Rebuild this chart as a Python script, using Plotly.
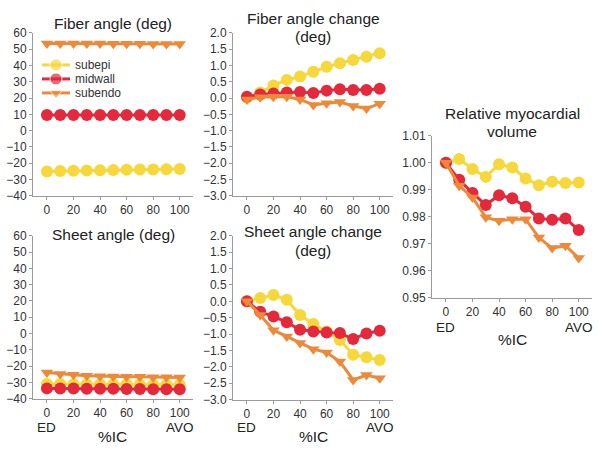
import plotly.graph_objects as go

# %IC 时间点
pct_ic = [0, 10, 20, 30, 40, 50, 60, 70, 80, 90, 100]

# Fiber angle (deg)
fiber_subepi = [-25.0, -24.8, -24.6, -24.5, -24.3, -24.2, -24.0, -23.9, -23.8, -23.7, -23.6]
fiber_midwall = [9.6, 9.6, 9.6, 9.6, 9.6, 9.6, 9.6, 9.6, 9.6, 9.6, 9.6]
fiber_subendo = [53.6, 53.6, 53.5, 53.5, 53.5, 53.4, 53.4, 53.4, 53.3, 53.3, 53.3]

# Fiber angle change (deg)
fchg_subepi = [0.02, 0.17, 0.39, 0.56, 0.66, 0.81, 0.96, 1.07, 1.17, 1.27, 1.38]
fchg_midwall = [0.04, 0.11, 0.14, 0.17, 0.19, 0.16, 0.23, 0.27, 0.25, 0.25, 0.29]
fchg_subendo = [-0.04, 0.03, 0.04, 0.04, -0.04, -0.21, -0.16, -0.12, -0.24, -0.32, -0.17]

# Sheet angle (deg)
sheet_subepi = [-31.0, -31.0, -31.1, -31.1, -31.2, -31.2, -31.3, -31.3, -31.4, -31.4, -31.5]
sheet_midwall = [-33.7, -33.8, -33.8, -33.9, -34.0, -34.0, -34.1, -34.1, -34.2, -34.2, -34.3]
sheet_subendo = [-23.9, -24.8, -25.4, -25.9, -26.2, -26.4, -26.5, -26.6, -26.8, -26.9, -27.0]

# Sheet angle change (deg)
schg_subepi = [0.0, 0.1, 0.19, 0.05, -0.42, -0.69, -0.92, -1.18, -1.63, -1.71, -1.79]
schg_midwall = [0.0, -0.32, -0.46, -0.64, -0.87, -0.92, -0.95, -0.97, -1.15, -0.98, -0.9]
schg_subendo = [0.0, -0.42, -0.88, -1.07, -1.27, -1.46, -1.56, -1.84, -2.4, -2.25, -2.35]

# Relative myocardial volume
vol_subepi = [1.0, 1.0014, 0.9977, 0.9948, 0.9995, 0.9983, 0.9942, 0.9917, 0.993, 0.9925, 0.9927]
vol_midwall = [1.0, 0.9937, 0.9888, 0.9844, 0.988, 0.9869, 0.9837, 0.9794, 0.9789, 0.9794, 0.9751]
vol_subendo = [1.0, 0.9915, 0.9872, 0.9798, 0.9785, 0.9791, 0.9791, 0.9723, 0.9684, 0.9693, 0.9647]

layer_names = ["subepi", "midwall", "subendo"]
colors = ["#F6D83A", "#E3293B", "#EC8A3A"]
symbols = ["circle", "circle", "triangle-down"]
sizes = [12, 12, 11]

panels = [
    ("x", "y", [fiber_subepi, fiber_midwall, fiber_subendo]),
    ("x2", "y2", [fchg_subepi, fchg_midwall, fchg_subendo]),
    ("x3", "y3", [sheet_subepi, sheet_midwall, sheet_subendo]),
    ("x4", "y4", [schg_subepi, schg_midwall, schg_subendo]),
    ("x5", "y5", [vol_subepi, vol_midwall, vol_subendo]),
]

W, H = 604, 453


def ypx(y):
    # 截图里纵向有点偏移/压缩，这里按参考图像素位置反算
    return (y - 6) / 0.97


fig = go.Figure()
for xa, ya, series in panels:
    for i, vals in enumerate(series):
        fig.add_trace(go.Scatter(
            x=pct_ic, y=vals, xaxis=xa, yaxis=ya,
            mode="lines+markers", name=layer_names[i],
            line=dict(color=colors[i], width=3),
            marker=dict(color=colors[i], symbol=symbols[i], size=sizes[i]),
            showlegend=False,
        ))

# 图例：plotly 自带图例行距太大，自己画（隐藏坐标轴用像素单位）
legend_rows = [64, 78, 92]
for i, name in enumerate(layer_names):
    fig.add_trace(go.Scatter(
        x=[42, 56, 70], y=[ypx(legend_rows[i])] * 3, xaxis="x6", yaxis="y6",
        mode="lines+markers", showlegend=False, hoverinfo="skip",
        line=dict(color=colors[i], width=3),
        marker=dict(color=colors[i], symbol=symbols[i], size=[0, sizes[i], 0]),
    ))
    fig.add_annotation(text=name, x=73, y=ypx(legend_rows[i]), xref="x6", yref="y6",
                       xanchor="left", yanchor="middle", showarrow=False,
                       font=dict(size=12, color="#333333"))


def xdom(left, right):
    return [left / W, right / W]


def ydom(top, bottom):
    return [1 - ypx(bottom) / H, 1 - ypx(top) / H]


axis_style = dict(showgrid=False, zeroline=False, showline=True,
                  linecolor="#9a9a9a", linewidth=1, ticks="outside",
                  ticklen=3, tickcolor="#9a9a9a",
                  tickfont=dict(size=12, color="#333333"))

ticks_x = dict(tickvals=[0, 20, 40, 60, 80, 100])
xr = [-10.5, 110]
layout = dict(
    width=W, height=H,
    margin=dict(l=0, r=0, t=0, b=0),
    paper_bgcolor="white", plot_bgcolor="rgba(0,0,0,0)",
    showlegend=False,
    font=dict(family="Liberation Sans, Arial, sans-serif", color="#222222"),
    xaxis=dict(domain=xdom(33, 193), range=xr, anchor="y", **ticks_x, **axis_style),
    yaxis=dict(domain=ydom(32, 195), range=[-40, 60], dtick=10, anchor="x", **axis_style),
    xaxis2=dict(domain=xdom(233, 393), range=xr, anchor="y2", **ticks_x, **axis_style),
    yaxis2=dict(domain=ydom(32, 195), range=[-3, 2], dtick=0.5, tickformat=".1f",
                anchor="x2", **axis_style),
    xaxis3=dict(domain=xdom(33, 193), range=xr, anchor="y3", **ticks_x, **axis_style),
    yaxis3=dict(domain=ydom(235, 398), range=[-40, 60], dtick=10, anchor="x3", **axis_style),
    xaxis4=dict(domain=xdom(233, 393), range=xr, anchor="y4", **ticks_x, **axis_style),
    yaxis4=dict(domain=ydom(235, 399), range=[-3, 2], dtick=0.5, tickformat=".1f",
                anchor="x4", **axis_style),
    xaxis5=dict(domain=xdom(432, 592), range=xr, anchor="y5", **ticks_x, **axis_style),
    yaxis5=dict(domain=ydom(135, 297), range=[0.95, 1.01], dtick=0.01, tickformat=".2f",
                anchor="x5", **axis_style),
    xaxis6=dict(domain=[0, 1], range=[0, W], visible=False, anchor="y6", fixedrange=True),
    yaxis6=dict(domain=[0, 1], range=[H, 0], visible=False, anchor="x6", fixedrange=True),
)
fig.update_layout(**layout)

# 子图标题（每行一个注释，行距更紧）
titles = [
    ("Fiber angle (deg)", 113, 23),
    ("Fiber angle change", 313, 18),
    ("(deg)", 313, 36),
    ("Sheet angle (deg)", 113, 234),
    ("Sheet angle change", 313, 231),
    ("(deg)", 313, 250),
    ("Relative myocardial", 512, 113),
    ("volume", 512, 131),
    ("%IC", 112, 436),
    ("%IC", 313, 436),
    ("%IC", 512, 339),
]
for text, px_x, px_y in titles:
    fig.add_annotation(text=text, x=px_x / W, y=1 - ypx(px_y) / H, xref="paper", yref="paper",
                       xanchor="center", yanchor="middle", showarrow=False,
                       font=dict(size=15.5, color="#222222"))

# ED / AVO 标在 0 和 100 下面
ed_avo = [("x3", 427), ("x4", 427), ("x5", 327)]
for xa, px_y in ed_avo:
    for val, label in [(0, "ED"), (100, "AVO")]:
        fig.add_annotation(text=label, x=val, xref=xa, y=1 - ypx(px_y) / H, yref="paper",
                           xanchor="center", yanchor="middle", showarrow=False,
                           font=dict(size=13.5, color="#222222"))

fig.write_html("out.html", config={"displayModeBar": False},
               post_script="document.body.style.margin='0';")
